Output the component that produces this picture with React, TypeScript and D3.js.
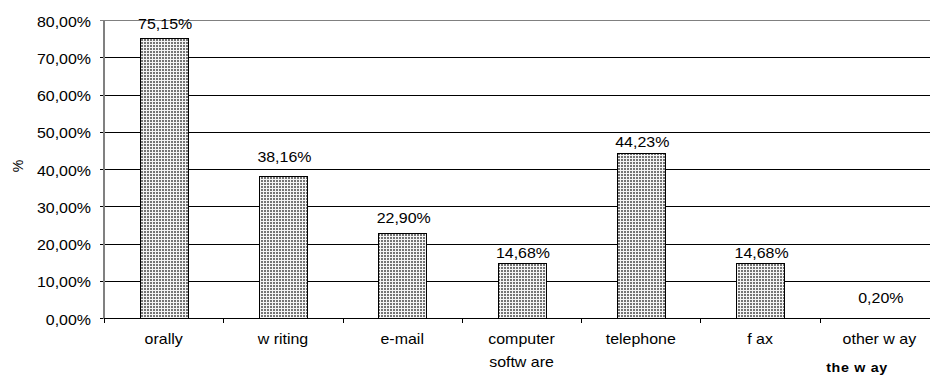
import React from "react";
import * as d3 from "d3";

const categories = ["orally", "w riting", "e-mail", "computer\nsoftw are", "telephone", "f ax", "other w ay"];
const values = [75.15, 38.16, 22.9, 14.68, 44.23, 14.68, 0.2];
const yTicks = [0, 10, 20, 30, 40, 50, 60, 70, 80];

// gap in px between each bar top and the baseline of its value label
const labelGaps = [9.5, 14, 10, 5, 6.5, 5, 14];

const W = 930;
const H = 377;
const margin = { left: 104, top: 20, bottom: 318, right: 939 };
const FONT = "'Liberation Sans', Arial, sans-serif";
const SX = 1.14;

const fmt = (v: number) => v.toFixed(2).replace(".", ",") + "%";

type LabelProps = {
  x: number;
  y: number;
  anchor?: "start" | "middle" | "end";
  size?: number;
  bold?: boolean;
  spacing?: number;
  children: React.ReactNode;
};

function Label({ x, y, anchor = "middle", size = 14, bold = false, spacing = 0, children }: LabelProps) {
  return (
    <text
      transform={`translate(${x},${y}) scale(${SX},1)`}
      textAnchor={anchor}
      fontSize={size}
      fontWeight={bold ? "bold" : "normal"}
      letterSpacing={spacing}
      fill="#000"
    >
      {children}
    </text>
  );
}

export default function App() {
  const x = d3
    .scaleBand<string>()
    .domain(categories)
    .range([margin.left, margin.right])
    .paddingInner(0.6)
    .paddingOuter(0.3);
  const y = d3.scaleLinear().domain([0, 80]).range([margin.bottom, margin.top]);
  const step = x.step();
  const cx = (c: string) => x(c)! + x.bandwidth() / 2;

  return (
    <svg
      width={W}
      height={H}
      style={{ position: "absolute", left: 0, top: 0, background: "#fff" }}
      fontFamily={FONT}
    >
      <defs>
        <pattern id="dots" width={3} height={3} patternUnits="userSpaceOnUse">
          <rect width={3} height={3} fill="#f4f4f4" />
          <rect x={0} y={0} width={2} height={2} fill="#747474" />
        </pattern>
      </defs>

      {/* horizontal gridlines */}
      {yTicks.map((t) => (
        <line
          key={"g" + t}
          x1={margin.left - 4}
          x2={margin.right}
          y1={Math.round(y(t)) + 0.5}
          y2={Math.round(y(t)) + 0.5}
          stroke={t === 80 ? "#808080" : "#000"}
          strokeWidth={1}
        />
      ))}

      {/* y tick labels */}
      {yTicks.map((t) => (
        <Label key={"t" + t} x={91} y={y(t) + 6.7} anchor="end">
          {fmt(t)}
        </Label>
      ))}

      {/* x tick marks at category boundaries */}
      {categories.map((c, i) => (
        <line
          key={"xt" + i}
          x1={Math.round(margin.left + step * i) + 0.5}
          x2={Math.round(margin.left + step * i) + 0.5}
          y1={margin.bottom}
          y2={margin.bottom + 5}
          stroke="#000"
        />
      ))}

      {/* bars (a bar thinner than a pixel disappears into the axis) */}
      {categories.map((c, i) => {
        const rawH = y(0) - y(values[i]);
        if (rawH < 1) return null;
        const x0 = Math.round(x(c)!) + 0.5;
        const y0 = Math.round(y(values[i])) + 0.5;
        const h = Math.round(y(0)) + 0.5 - y0;
        return (
          <rect
            key={"b" + i}
            x={x0}
            y={y0}
            width={Math.round(x.bandwidth())}
            height={h}
            fill="url(#dots)"
            stroke="#000"
            strokeWidth={1}
          />
        );
      })}

      {/* value labels */}
      {categories.map((c, i) => (
        <Label key={"v" + i} x={cx(c) + 1.5} y={y(values[i]) - labelGaps[i]}>
          {fmt(values[i])}
        </Label>
      ))}

      {/* axes */}
      <line x1={margin.left} x2={margin.left} y1={margin.top} y2={margin.bottom + 1} stroke="#808080" strokeWidth={2} />
      <line x1={margin.left} x2={margin.right} y1={margin.bottom + 0.5} y2={margin.bottom + 0.5} stroke="#000" strokeWidth={1} />

      {/* category labels */}
      {categories.map((c, i) =>
        c.split("\n").map((line, j) => (
          <Label key={"c" + i + "-" + j} x={cx(c)} y={344 + j * 23}>
            {line}
          </Label>
        ))
      )}

      {/* axis titles */}
      <Label x={857} y={371.5} size={12.5} bold spacing={0.6}>
        the w ay
      </Label>
      <text
        transform={`translate(23, 166) rotate(-90)`}
        textAnchor="middle"
        fontSize={14}
        fill="#000"
      >
        %
      </text>
    </svg>
  );
}
